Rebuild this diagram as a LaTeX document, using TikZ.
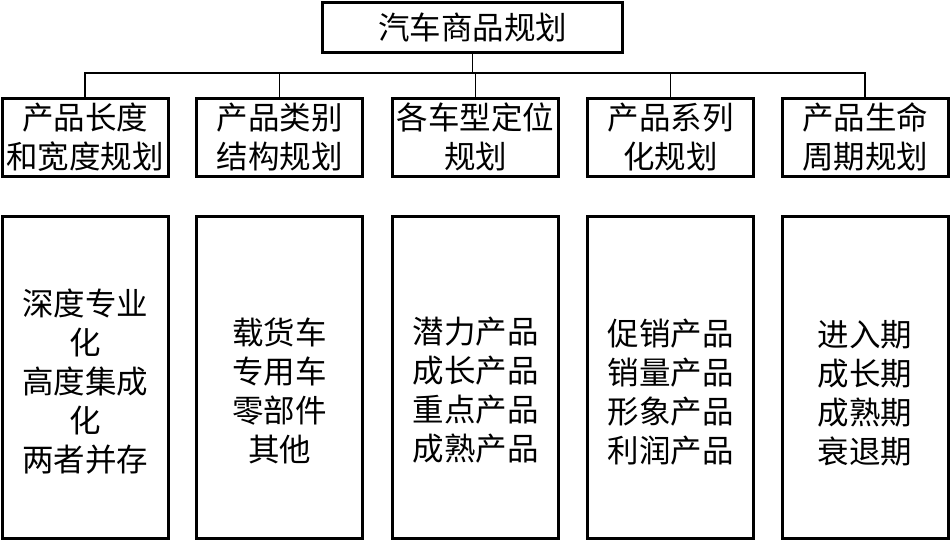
\documentclass[tikz,border=0pt]{standalone}
\usepackage{fontspec}
\newfontfamily\cjk{Noto Sans CJK SC}
\usetikzlibrary{positioning}
% first-line strut: pushes the text of a list box down by half of (#1 - 27pt)
\newcommand{\liftstrut}[1]{\rule{0pt}{#1}}

\begin{document}
\begin{tikzpicture}[
    x=1pt, y=-1pt,
    box/.style={draw, line width=3pt, align=center, inner sep=0pt,
        font=\cjk\fontsize{31.5}{39}\selectfont},
    topbox/.style={box, minimum width=300, minimum height=50},
    midbox/.style={box, minimum width=166, minimum height=78},
    lowbox/.style={box, minimum width=166, minimum height=322},
    link/.style={line width=1.5pt},
]
\useasboundingbox (0,0) rectangle (950,541);

% Root
\node[topbox] (top) at (472.5, 27) {汽车商品规划};

% Second level: planning areas
\node[midbox] (p1) at (85, 137)    {产品长度\\和宽度规划};
\node[midbox] (p2) at (279.5, 137) {产品类别\\结构规划};
\node[midbox] (p3) at (475.5, 137) {各车型定位\\规划};
\node[midbox] (p4) at (670.5, 137) {产品系列\\化规划};
\node[midbox] (p5) at (865, 137)   {产品生命\\周期规划};

% Third level: contents
\node[lowbox] (c1) at (85, 377.5)    {\liftstrut{35pt}深度专业\\化\\高度集成\\化\\两者并存};
\node[lowbox] (c2) at (279.5, 377.5) {\liftstrut{53pt}载货车\\专用车\\零部件\\其他};
\node[lowbox] (c3) at (475.5, 377.5) {\liftstrut{51pt}潜力产品\\成长产品\\重点产品\\成熟产品};
\node[lowbox] (c4) at (670.5, 377.5) {\liftstrut{55pt}促销产品\\销量产品\\形象产品\\利润产品};
\node[lowbox] (c5) at (865, 377.5)   {\liftstrut{57pt}进入期\\成长期\\成熟期\\衰退期};

% Bus line from root to the planning areas
\coordinate (bus) at (top.south |- 0,73);
\draw[link] (top.south) -- (bus);
\foreach \i in {1,...,5}
    \draw[link] (bus) -| (p\i.north);

\end{tikzpicture}
\end{document}
